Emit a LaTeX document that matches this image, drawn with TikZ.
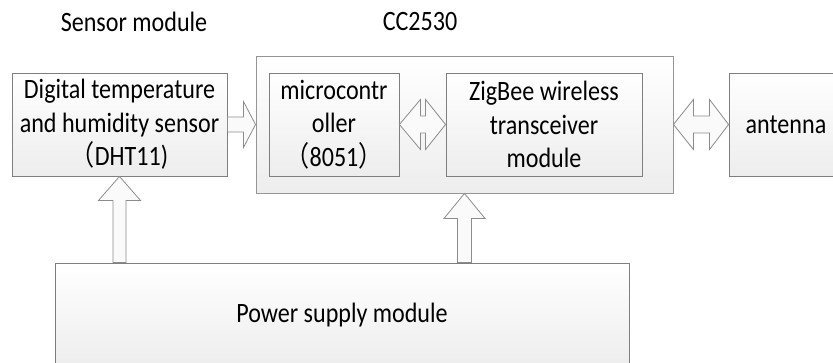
\documentclass[tikz,border=0pt]{standalone}
\usepackage{fontspec}
\setmainfont{Carlito}[FakeStretch=0.86]
\newfontfamily\cjkfont{Noto Sans CJK SC}[FakeStretch=0.86]
\usetikzlibrary{calc}
\definecolor{boxline}{HTML}{7F7F7F}
\definecolor{outerline}{HTML}{959595}
\definecolor{boxbot}{HTML}{EDEDED}
\definecolor{arrline}{HTML}{8C8C8C}
\definecolor{arrfill}{HTML}{FAFAFA}
\newcommand{\fl}{{\cjkfont （}}
\newcommand{\fr}{{\cjkfont ）}}
\begin{document}
\begin{tikzpicture}[x=1pt,y=-1pt,
  every node/.style={font=\fontsize{28}{33.5}\selectfont, text=black},
  box/.style={draw=boxline, line width=0.9pt, top color=white, bottom color=boxbot,
    inner sep=0pt, align=center, minimum height=103pt},
  outerbox/.style={draw=outerline, line width=0.9pt, top color=white, bottom color=boxbot,
    inner sep=0pt, minimum width=417pt, minimum height=137pt},
  blk/.style={draw=arrline, line width=0.8pt, fill=arrfill, line join=miter},
  lbl/.style={inner sep=0pt}]
\useasboundingbox (0,0) rectangle (833,363);
\clip (0,0) rectangle (833,363);
\fill[white] (0,0) rectangle (833,363);

% labels
\node[lbl] (lsens) at (134,22) {Sensor module};
\node[lbl] (lcc) at (420,22) {CC2530};

% boxes
\node[box, minimum width=215pt] (sensor) at (119.5,124.5)
  {Digital temperature\\and humidity sensor\\\fl DHT11)};
\node[outerbox] (outer) at (464.5,124.5) {};
\node[box, minimum width=130pt] (mc) at (334,124.5)
  {microcontr\\oller\\\fl 8051\fr};
\node[box, minimum width=196pt] (zb) at (544,124.5)
  {ZigBee wireless\\transceiver\\module};
\node[box, minimum width=114pt] (ant) at (786,124.5) {antenna};
\node[box, minimum width=574pt, minimum height=104pt] (power) at (342,315)
  {Power supply module};

% sensor -> CC2530
\draw[blk] ($(sensor.east)+(0,-7.5)$) -- ($(sensor.east)+(16,-7.5)$)
  -- ($(sensor.east)+(16,-23)$) -- (outer.west) -- ($(sensor.east)+(16,23)$)
  -- ($(sensor.east)+(16,7.5)$) -- ($(sensor.east)+(0,7.5)$) -- cycle;

% mc <-> zigbee
\draw[blk] (mc.east) -- ($(mc.east)+(21,-25)$) -- ($(mc.east)+(21,-8.5)$)
  -- ($(zb.west)+(-20,-8.5)$) -- ($(zb.west)+(-20,-25)$) -- (zb.west)
  -- ($(zb.west)+(-20,25)$) -- ($(zb.west)+(-20,8.5)$)
  -- ($(mc.east)+(21,8.5)$) -- ($(mc.east)+(21,25)$) -- cycle;

% CC2530 <-> antenna
\draw[blk] (outer.east) -- ($(outer.east)+(20,-25)$) -- ($(outer.east)+(20,-8.5)$)
  -- ($(ant.west)+(-19,-8.5)$) -- ($(ant.west)+(-19,-25)$) -- (ant.west)
  -- ($(ant.west)+(-19,25)$) -- ($(ant.west)+(-19,8.5)$)
  -- ($(outer.east)+(20,8.5)$) -- ($(outer.east)+(20,25)$) -- cycle;

% power -> sensor
\coordinate (p1) at (power.north -| sensor.south);
\draw[blk] (sensor.south) -- ($(sensor.south)+(21,24)$) -- ($(sensor.south)+(6.5,24)$)
  -- ($(p1)+(6.5,0)$) -- ($(p1)+(-6.5,0)$) -- ($(sensor.south)+(-6.5,24)$)
  -- ($(sensor.south)+(-21,24)$) -- cycle;

% power -> CC2530
\coordinate (p2) at (power.north -| outer.south);
\draw[blk] (outer.south) -- ($(outer.south)+(20.5,25)$) -- ($(outer.south)+(7,25)$)
  -- ($(p2)+(7,0)$) -- ($(p2)+(-7,0)$) -- ($(outer.south)+(-7,25)$)
  -- ($(outer.south)+(-20.5,25)$) -- cycle;
\end{tikzpicture}
\end{document}
